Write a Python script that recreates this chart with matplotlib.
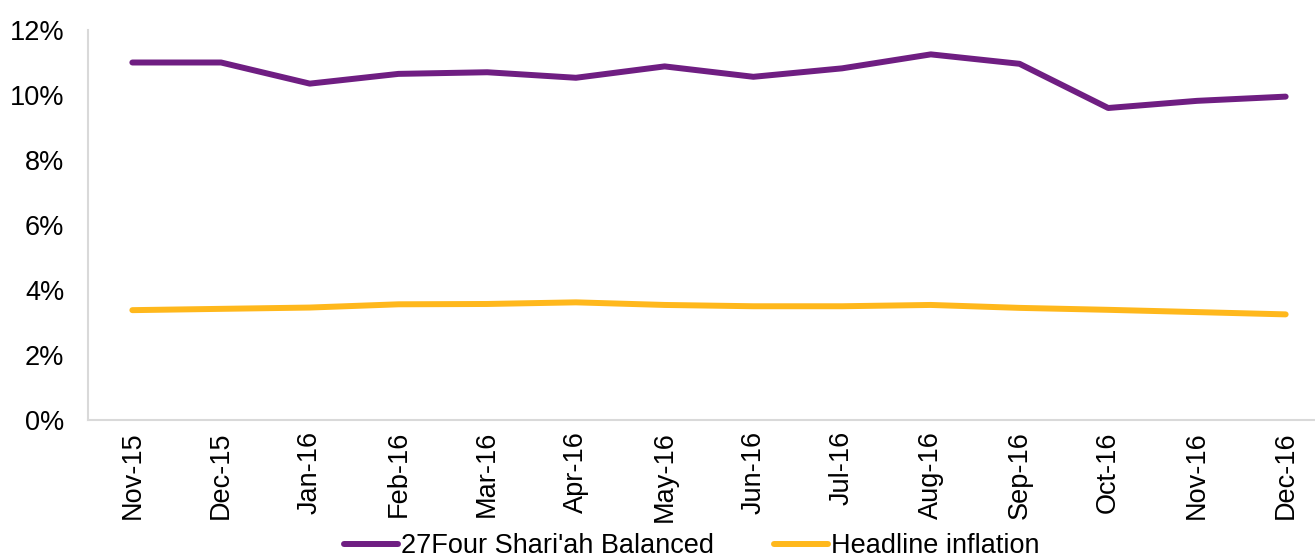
import matplotlib
matplotlib.use("Agg")
import matplotlib.pyplot as plt
from matplotlib.ticker import FuncFormatter

plt.rcParams['font.family'] = ['Liberation Sans', 'DejaVu Sans']

months = ['Nov-15', 'Dec-15', 'Jan-16', 'Feb-16', 'Mar-16', 'Apr-16', 'May-16',
          'Jun-16', 'Jul-16', 'Aug-16', 'Sep-16', 'Oct-16', 'Nov-16', 'Dec-16']
balanced = [11.00, 11.00, 10.35, 10.65, 10.70, 10.53, 10.88,
            10.56, 10.82, 11.25, 10.96, 9.60, 9.82, 9.95]
inflation = [3.38, 3.42, 3.46, 3.56, 3.57, 3.62, 3.54,
             3.50, 3.50, 3.54, 3.45, 3.39, 3.32, 3.25]

fig = plt.figure(figsize=(13.15, 5.59), dpi=100)
ax = fig.add_axes([88 / 1315, 1 - 420 / 559, 1242 / 1315, 390 / 559])

x = range(len(months))
ax.plot(x, balanced, color='#6F1E82', lw=4.3, solid_capstyle='round',
        label="27Four Shari'ah Balanced")
ax.plot(x, inflation, color='#FFB81C', lw=4.3, solid_capstyle='round',
        label='Headline inflation')

ax.set_ylim(0, 12)
ax.set_yticks(range(0, 13, 2))
ax.yaxis.set_major_formatter(FuncFormatter(lambda v, p: f'{v:.0f}%'))
ax.set_xlim(-0.5, 13.5)
ax.set_xticks(list(x))
ax.set_xticklabels(months, rotation=90)
ax.tick_params(length=0, labelsize=19.5, pad=8)
ax.tick_params(axis='y', pad=17)

for s in ['top', 'right']:
    ax.spines[s].set_visible(False)
for s in ['left', 'bottom']:
    ax.spines[s].set_color('#D9D9D9')
    ax.spines[s].set_linewidth(1.5)

ax.legend(loc='lower center', bbox_to_anchor=(0.486, -0.385), ncol=2,
          frameon=False, fontsize=19.5, handlelength=2.0, handletextpad=0.1,
          columnspacing=2.2, borderaxespad=0)

fig.savefig('out.png', dpi=100)
